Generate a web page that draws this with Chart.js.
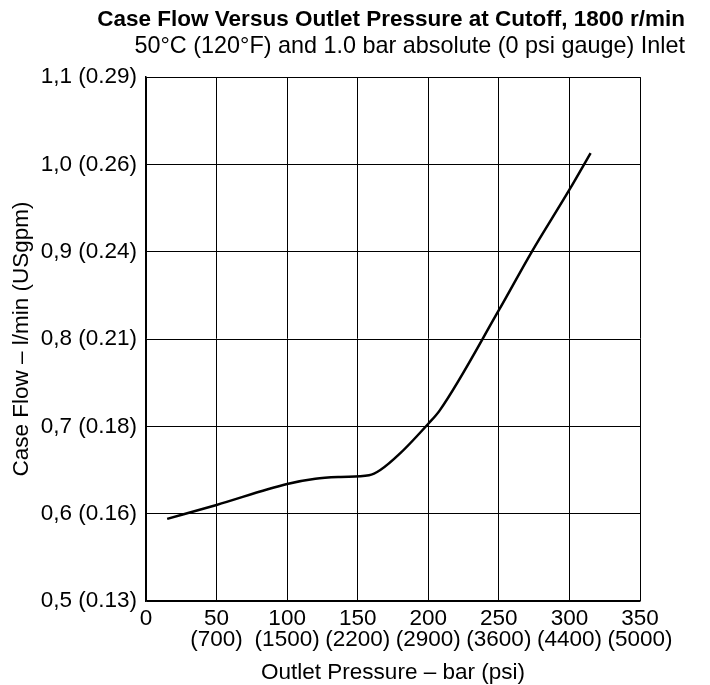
<!DOCTYPE html>
<html>
<head>
<meta charset="utf-8">
<script src="https://cdn.jsdelivr.net/npm/chart.js@4.4.1/dist/chart.umd.min.js"></script>
<style>
  html, body { margin: 0; padding: 0; background: #fff; }
  #wrap { width: 710px; height: 685px; }
</style>
</head>
<body>
<div id="wrap"><canvas id="chart" width="710" height="685"></canvas></div>
<script>
// Outlet pressure (bar) and case flow (l/min)
const pressureBar = [15, 50, 100, 120, 138, 158, 166, 180, 200, 208, 250, 273, 300, 315];
const caseFlow = [0.594, 0.610, 0.634, 0.640, 0.642, 0.644, 0.650, 0.669, 0.703, 0.718, 0.833, 0.899, 0.971, 1.013];

// tick labels
const xTickBar = ['0', '50', '100', '150', '200', '250', '300', '350'];
const xTickPsi = ['', '(700)', '(1500)', '(2200)', '(2900)', '(3600)', '(4400)', '(5000)'];
const yTickLabels = ['0,5 (0.13)', '0,6 (0.16)', '0,7 (0.18)', '0,8 (0.21)', '0,9 (0.24)', '1,0 (0.26)', '1,1 (0.29)'];

const FONT = "'Liberation Sans', Arial, Helvetica, sans-serif";
Chart.defaults.font.family = FONT;
Chart.defaults.color = '#000';

const ctx = document.getElementById('chart').getContext('2d');
new Chart(ctx, {
    type: 'line',
    data: {
        datasets: [{
            data: pressureBar.map((p, i) => ({ x: p, y: caseFlow[i] })),
            borderColor: '#000',
            borderWidth: 2.5,
            pointRadius: 0,
            cubicInterpolationMode: 'monotone',
            fill: false
        }]
    },
    options: {
        responsive: false,
        animation: false,
        events: [],
        layout: { padding: { left: 8, right: 25, top: 0, bottom: 0 } },
        plugins: {
            legend: { display: false },
            tooltip: { enabled: false },
            title: {
                display: true,
                text: 'Case Flow Versus Outlet Pressure at Cutoff, 1800 r/min',
                align: 'end',
                color: '#000',
                font: { size: 22.5, weight: 'bold', lineHeight: 1.2 },
                padding: { top: 6, bottom: 0 }
            },
            subtitle: {
                display: true,
                text: '50°C (120°F) and 1.0 bar absolute (0 psi gauge) Inlet',
                align: 'end',
                color: '#000',
                font: { size: 23.4, lineHeight: 1.2 },
                padding: { top: 0, bottom: 16 }
            }
        },
        scales: {
            x: {
                type: 'linear',
                min: 0,
                max: 350,
                ticks: {
                    stepSize: 50,
                    maxRotation: 0,
                    padding: 8,
                    font: { size: 22.5, lineHeight: 0.9 },
                    callback: (v, i) => (i === 0 ? xTickBar[0] : [xTickBar[i], xTickPsi[i]])
                },
                grid: { color: '#000', lineWidth: 1, drawTicks: false },
                border: { color: '#000', width: 1.5 },
                title: {
                    display: true,
                    text: 'Outlet Pressure – bar (psi)',
                    font: { size: 22.5, lineHeight: 1.1 },
                    padding: { top: 0, bottom: 0 }
                },
                afterFit: (scale) => {
                    scale.height = 84;
                    scale.paddingRight = 70;
                }
            },
            y: {
                type: 'linear',
                min: 0.5,
                max: 1.1,
                ticks: {
                    stepSize: 0.1,
                    padding: 9,
                    font: { size: 22.5, lineHeight: 1.2 },
                    callback: (v, i) => yTickLabels[i]
                },
                grid: { color: '#000', lineWidth: 1, drawTicks: false },
                border: { color: '#000', width: 1.5 },
                title: {
                    display: true,
                    text: 'Case Flow – l/min (USgpm)',
                    font: { size: 22.5, lineHeight: 1.2 },
                    padding: { top: 0, bottom: 0 }
                },
                afterFit: (scale) => {
                    scale.width = 138;
                }
            }
        }
    }
});
</script>
</body>
</html>
